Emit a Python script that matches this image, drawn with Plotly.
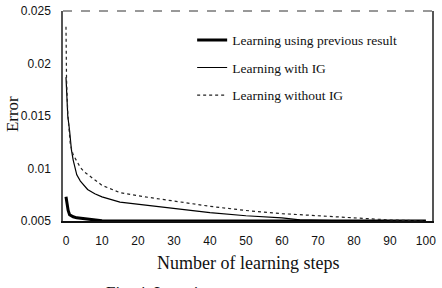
import plotly.graph_objects as go

# ---- data ----
steps_prev = [0, 0.3, 0.6, 1, 2, 3, 5, 7, 10, 20, 40, 60, 80, 100]
err_prev = [0.0073, 0.0066, 0.0060, 0.0056, 0.0054, 0.0053, 0.0052, 0.0051, 0.00502, 0.005, 0.005, 0.005, 0.005, 0.005]

steps_ig = [0, 0.5, 1, 1.5, 2, 3, 4, 5, 6, 8, 10, 15, 20, 30, 40, 50, 60, 65, 70, 80, 90, 100]
err_ig = [0.0187, 0.0150, 0.0136, 0.0118, 0.0108, 0.0094, 0.0088, 0.0084, 0.0080, 0.0076, 0.0073, 0.0068, 0.0066, 0.0062, 0.0058, 0.0055, 0.0053, 0.0051, 0.00505, 0.0050, 0.0050, 0.0050]

steps_noig = [0, 0.15, 0.5, 1.2, 2, 3, 4, 5, 7, 10, 15, 20, 30, 40, 50, 60, 70, 80, 90, 100]
err_noig = [0.0235, 0.0185, 0.0152, 0.0123, 0.0113, 0.0107, 0.0101, 0.0097, 0.0092, 0.0084, 0.0077, 0.0074, 0.0069, 0.0064, 0.0060, 0.0057, 0.0055, 0.0053, 0.0051, 0.0050]

names = ["Learning using previous result", "Learning with IG", "Learning without IG"]
x_ticks = [0, 10, 20, 30, 40, 50, 60, 70, 80, 90, 100]
y_ticks = [0.005, 0.01, 0.015, 0.02, 0.025]
y_tick_text = ["0.005", "0.01", "0.015", "0.02", "0.025"]

fig = go.Figure()
fig.add_trace(go.Scatter(x=steps_prev, y=err_prev, mode="lines", name=names[0],
                         legendgroup="a", line=dict(color="black", width=3)))
fig.add_trace(go.Scatter(x=steps_ig, y=err_ig, mode="lines", name=names[1],
                         legendgroup="b", line=dict(color="black", width=1.2)))
fig.add_trace(go.Scatter(x=steps_noig, y=err_noig, mode="lines", name=names[2],
                         legendgroup="c", line=dict(color="#222", width=1.2, dash="dot")))

tick_font = dict(family="Liberation Sans, Arial, sans-serif", size=12, color="#111")
serif = "Liberation Serif, Times New Roman, serif"

fig.update_layout(
    width=442, height=288,
    margin=dict(l=63, r=10, t=11, b=67, autoexpand=False),
    paper_bgcolor="white", plot_bgcolor="white",
    showlegend=True,
    legend=dict(x=0.35, y=0.935, xanchor="left", yanchor="top",
                bgcolor="rgba(0,0,0,0)", borderwidth=0,
                tracegroupgap=7,
                font=dict(family=serif, size=13.5, color="#111")),
    xaxis=dict(range=[-0.83, 101.7], tickvals=x_ticks, showgrid=False, zeroline=False,
               showline=True, linecolor="#111", linewidth=1.5, mirror=False,
               ticks="", tickfont=tick_font, ticklabelstandoff=8, automargin=False),
    yaxis=dict(range=[0.005, 0.025], tickvals=y_ticks, ticktext=y_tick_text,
               showgrid=False, zeroline=False,
               showline=True, linecolor="#555", linewidth=1.5, mirror=True,
               ticks="", tickfont=tick_font, ticklabelstandoff=8, automargin=False),
    shapes=[dict(type="line", xref="paper", yref="paper", x0=0, x1=1, y0=1, y1=1,
                 line=dict(color="#333", width=1, dash="dash"))],
    annotations=[
        dict(text="Error", xref="paper", yref="paper", x=-0.135, y=0.51,
             xanchor="center", yanchor="middle",
             textangle=-90, showarrow=False, font=dict(family=serif, size=17, color="#111")),
        dict(text="Number of learning steps", xref="paper", yref="paper", x=0.5, y=-0.2,
             xanchor="center", yanchor="middle",
             showarrow=False, font=dict(family=serif, size=18, color="#111")),
        dict(text="Fig. 4. Learning errors", xref="paper", yref="paper", x=0.11, y=-0.285,
             xanchor="left", yanchor="top", showarrow=False,
             font=dict(family=serif, size=17, color="#111")),
    ],
)

fig.write_html("out.html")
